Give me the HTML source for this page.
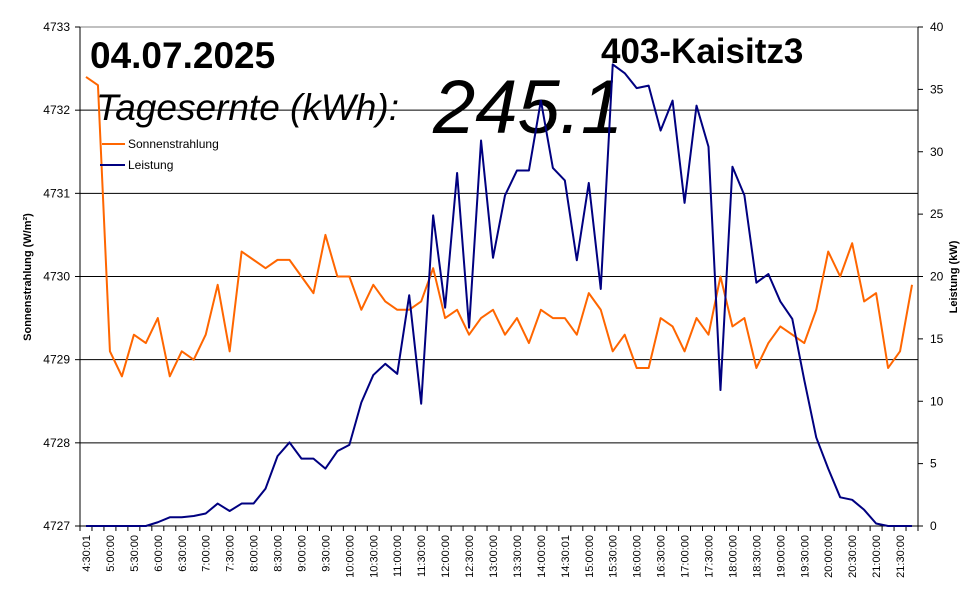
<!DOCTYPE html>
<html><head><meta charset="utf-8"><style>
body{margin:0;background:#fff;}
svg{display:block;font-family:"Liberation Sans",Arial,sans-serif;}
</style></head><body>
<svg id="chart" width="970" height="604" viewBox="0 0 970 604">
<text x="90" y="68" font-size="37" font-weight="bold">04.07.2025</text>
<text x="601" y="63" font-size="35" font-weight="bold">403-Kaisitz3</text>
<text x="96" y="120" font-size="37" font-style="italic">Tagesernte (kWh):</text>
<text x="433" y="133" font-size="76" font-style="italic">245.1</text>
<g id="grid"></g>
<g id="axes"></g>
<g id="series"></g>
<g>
<line x1="102" y1="144" x2="125" y2="144" stroke="#ff6600" stroke-width="2"/>
<text x="128" y="148" font-size="12">Sonnenstrahlung</text>
<line x1="100" y1="165" x2="125" y2="165" stroke="#000080" stroke-width="2"/>
<text x="128" y="169" font-size="12">Leistung</text>
</g>
<text transform="translate(31,277) rotate(-90)" text-anchor="middle" font-size="11" font-weight="bold">Sonnenstrahlung (W/m²)</text>
<text transform="translate(957,277) rotate(-90)" text-anchor="middle" font-size="11" font-weight="bold">Leistung (kW)</text>
</svg>
<script>
const times = ["4:30:01","5:00:00","5:30:00","6:00:00","6:30:00","7:00:00","7:30:00","8:00:00","8:30:00","9:00:00","9:30:00","10:00:00","10:30:00","11:00:00","11:30:00","12:00:00","12:30:00","13:00:00","13:30:00","14:00:00","14:30:01","15:00:00","15:30:00","16:00:00","16:30:00","17:00:00","17:30:00","18:00:00","18:30:00","19:00:00","19:30:00","20:00:00","20:30:00","21:00:00","21:30:00"];
const sonnenstrahlung = [4732.4,4732.3,4729.1,4728.8,4729.3,4729.2,4729.5,4728.8,4729.1,4729.0,4729.3,4729.9,4729.1,4730.3,4730.2,4730.1,4730.2,4730.2,4730.0,4729.8,4730.5,4730.0,4730.0,4729.6,4729.9,4729.7,4729.6,4729.6,4729.7,4730.1,4729.5,4729.6,4729.3,4729.5,4729.6,4729.3,4729.5,4729.2,4729.6,4729.5,4729.5,4729.3,4729.8,4729.6,4729.1,4729.3,4728.9,4728.9,4729.5,4729.4,4729.1,4729.5,4729.3,4730.0,4729.4,4729.5,4728.9,4729.2,4729.4,4729.3,4729.2,4729.6,4730.3,4730.0,4730.4,4729.7,4729.8,4728.9,4729.1,4729.9];
const leistung = [0,0,0,0,0,0,0.3,0.7,0.7,0.8,1.0,1.8,1.2,1.8,1.8,3.0,5.6,6.7,5.4,5.4,4.6,6.0,6.5,9.9,12.1,13.0,12.2,18.5,9.8,24.9,17.5,28.3,15.9,30.9,21.5,26.5,28.5,28.5,34.1,28.7,27.7,21.3,27.5,19.0,37.0,36.3,35.1,35.3,31.7,34.1,25.9,33.7,30.4,10.9,28.8,26.5,19.5,20.2,18.0,16.6,11.7,7.1,4.6,2.3,2.1,1.3,0.2,0,0,0];
const leftTicks = [4727,4728,4729,4730,4731,4732,4733];
const rightTicks = [0,5,10,15,20,25,30,35,40];

const NS="http://www.w3.org/2000/svg";
const PL=80,PR=918,PT=27,PB=526;
const nPts=sonnenstrahlung.length;
const cw=(PR-PL)/nPts;
function xS(i){return PL+cw*(i+0.5);}
function yL(v){return PB-(v-4727)/(4733-4727)*(PB-PT);}
function yR(v){return PB-v/40*(PB-PT);}
function mk(tag,attrs,parent){const e=document.createElementNS(NS,tag);for(const k in attrs)e.setAttribute(k,attrs[k]);parent.appendChild(e);return e;}
const gridG=document.getElementById('grid'),axesG=document.getElementById('axes'),seriesG=document.getElementById('series');
leftTicks.forEach(v=>{
  const y=yL(v);
  if(v>4727&&v<4733){const g=mk('line',{x1:PL,x2:PR,y1:y,y2:y,stroke:'#000','stroke-width':1},gridG);
  
  }
  const t=mk('line',{x1:PL-5,x2:PL,y1:y,y2:y,stroke:'#000'},axesG);
  
  
  const tx=mk('text',{x:PL-10,y:y+4,'text-anchor':'end','font-size':12},axesG);
  
  
  tx.textContent=v;
});
const topBorder=mk('line',{x1:PL,x2:PR,y1:PT,y2:PT,stroke:'#808080'},axesG);


const la=mk('line',{x1:PL,x2:PL,y1:PT,y2:PB,stroke:'#000'},axesG);


const ra=mk('line',{x1:PR,x2:PR,y1:PT,y2:PB,stroke:'#000'},axesG);


const ba=mk('line',{x1:PL,x2:PR,y1:PB,y2:PB,stroke:'#000'},axesG);


rightTicks.forEach(v=>{
  const y=yR(v);
  const t=mk('line',{x1:PR,x2:PR+5,y1:y,y2:y,stroke:'#000'},axesG);
  
  
  const tx=mk('text',{x:PR+12,y:y+4,'font-size':12},axesG);
  
  
  tx.textContent=v;
});
for(let k=0;k<=nPts;k++){
  const x=PL+cw*k;
  const t=mk('line',{x1:x,x2:x,y1:PB,y2:PB+5,stroke:'#000'},axesG);
  
  
}
times.forEach((s,j)=>{
  const x=xS(j*2);
  const tx=mk('text',{transform:`translate(${x+4},535) rotate(-90)`,'text-anchor':'end','font-size':11},axesG);
  
  
  tx.textContent=s;
});
const p1=mk('polyline',{points:sonnenstrahlung.map((v,i)=>xS(i)+','+yL(v)).join(' '),fill:'none',stroke:'#ff6600','stroke-width':2,'stroke-linejoin':'round'},seriesG);


const p2=mk('polyline',{points:leistung.map((v,i)=>xS(i)+','+yR(v)).join(' '),fill:'none',stroke:'#000080','stroke-width':2,'stroke-linejoin':'round'},seriesG);


</script>
</body></html>
